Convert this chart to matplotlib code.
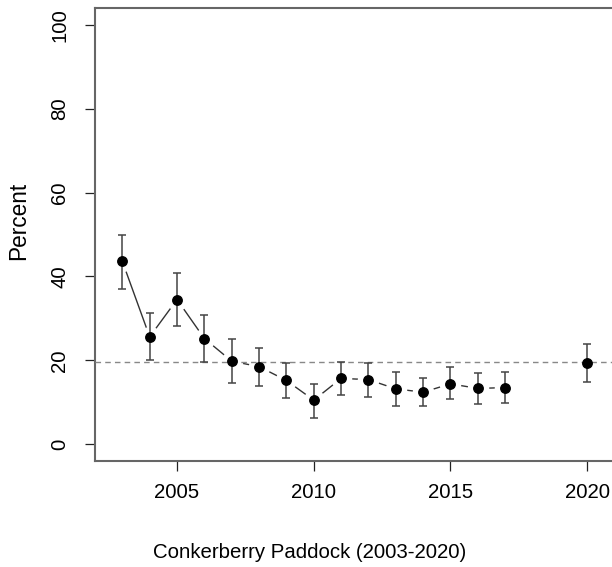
import numpy as np
import matplotlib
matplotlib.use("Agg")
import matplotlib.pyplot as plt

plt.rcParams['font.family'] = ['Liberation Sans', 'DejaVu Sans']

# values
years = [2003, 2004, 2005, 2006, 2007, 2008, 2009, 2010, 2011, 2012,
         2013, 2014, 2015, 2016, 2017, 2020]
pct = [43.6, 25.6, 34.5, 25.2, 19.8, 18.5, 15.2, 10.5, 15.7, 15.4,
       13.2, 12.4, 14.4, 13.3, 13.5, 19.4]
upper = [50.0, 31.2, 40.9, 30.8, 25.0, 22.9, 19.3, 14.4, 19.7, 19.4,
         17.2, 15.7, 18.3, 17.0, 17.1, 24.0]
lower = [37.1, 20.0, 28.3, 19.6, 14.7, 14.0, 11.1, 6.3, 11.7, 11.3,
         9.1, 9.0, 10.7, 9.7, 9.9, 14.9]
ref_level = 19.5
xticks = [2005, 2010, 2015, 2020]
yticks = [0, 20, 40, 60, 80, 100]

years = np.array(years)
pct = np.array(pct)
upper = np.array(upper)
lower = np.array(lower)

fig = plt.figure(figsize=(6.12, 5.67), dpi=100)
# right edge of the box runs past the image, as in the reference
ax = fig.add_axes([95 / 612, 1 - 461 / 567, 525 / 612, 453 / 567])
ax.set_xlim(2002.0, 2021.2)
ax.set_ylim(-4, 104)

# connecting line (only the consecutive run up to 2017)
run = years <= 2017
ax.plot(years[run], pct[run], color='#333333', lw=1.0, zorder=1)
# white halo around points -> gaps like R type="b"
ax.plot(years, pct, 'o', ms=14.5, mfc='white', mec='white', zorder=2)

ax.axhline(ref_level, color='#888888', lw=1.0, ls=(0, (4, 3)), zorder=3)

ax.errorbar(years, pct, yerr=[pct - lower, upper - pct], fmt='none',
            ecolor='#444444', elinewidth=1.1, capsize=3.0, capthick=1.1,
            zorder=4)
ax.plot(years, pct, 'o', ms=6.8, color='black', zorder=5)

ax.set_xticks(xticks)
ax.set_yticks(yticks)
ax.tick_params(axis='both', labelsize=14.7, length=7.5, width=0.9,
               color='#222222')
ax.tick_params(axis='x', pad=8)
ax.tick_params(axis='y', pad=11)
for lab in ax.get_yticklabels():
    lab.set_rotation(90)
    lab.set_va('center')

for s in ax.spines.values():
    s.set_color('#666666')
    s.set_linewidth(1.5)

ax.set_ylabel('Percent', fontsize=16.3)
ax.yaxis.set_label_coords((30 - 95) / 525, (461 - 221) / 453)
fig.text(310 / 612, 1 - 552 / 567, 'Conkerberry Paddock (2003-2020)',
         fontsize=14.7, ha='center', va='center')

fig.savefig('out.png', dpi=100)
